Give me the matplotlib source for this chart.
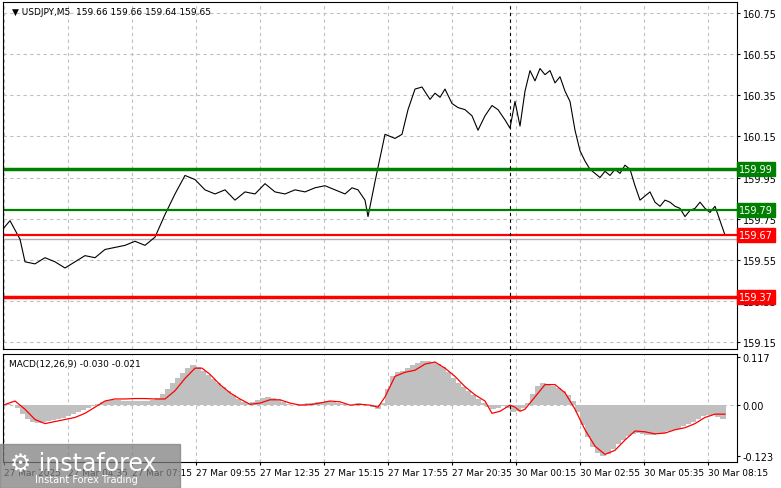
import matplotlib
matplotlib.use("Agg")
import matplotlib.pyplot as plt
import numpy as np

# time positions (5-minute bar index)
price_t = [0,3.5,8.5,11,16,21,26,31,36,41,46,51,56,61,66,71,76,81,86,91,96,101,106,111,116,121,126,131,136,141,146,151,156,161,166,171,174.5,177.5,181,182.5,186,191,196,199.5,202.5,206,209.5,213.5,216,218.5,221,224.5,227.5,231,234.5,237.5,241,244.5,247.5,251,253.5,256,258.5,261,263.5,266,268.5,271,273.5,276,278.5,281,283.5,286,288.5,291,293.5,296,298.5,301,303.5,306,308.5,311,313.5,316,318.5,321,323.5,326,328.5,331,333.5,336,338.5,341,343.5,346,348.5,351,353.5,356,358.5,361]
price = [159.70,159.74,159.65,159.54,159.53,159.56,159.54,159.51,159.54,159.57,159.56,159.60,159.61,159.62,159.64,159.62,159.66,159.77,159.87,159.96,159.94,159.89,159.87,159.89,159.84,159.88,159.87,159.92,159.88,159.87,159.89,159.88,159.90,159.91,159.89,159.87,159.90,159.89,159.84,159.76,159.93,160.16,160.14,160.16,160.28,160.38,160.39,160.33,160.36,160.34,160.38,160.31,160.29,160.28,160.25,160.18,160.25,160.30,160.28,160.23,160.19,160.32,160.20,160.37,160.47,160.42,160.48,160.45,160.47,160.41,160.44,160.37,160.32,160.18,160.08,160.03,159.99,159.97,159.95,159.98,159.96,159.99,159.97,160.01,159.99,159.91,159.84,159.86,159.88,159.83,159.81,159.84,159.83,159.81,159.80,159.76,159.79,159.80,159.83,159.80,159.78,159.81,159.74,159.67]

macd_t = list(np.arange(0, 362, 2.5))
hist_ctrl_t = [0,3.5,8.5,11,16,21,26,31,36,41,46,51,56,61,66,71,76,81,86,94.5,98.5,103.5,108.5,113.5,118.5,123.5,128.5,133.5,138.5,143.5,148.5,153.5,158.5,163.5,168.5,173.5,178.5,183.5,187.5,191,193.5,196,201,206,211,216,221,226,231,236,241,244.5,248.5,251,253.5,256,258.5,261,263.5,266,268.5,271,273.5,276,278.5,281,283.5,286,288.5,291,293.5,296,298.5,301,303.5,306,308.5,311,313.5,316,318.5,321,323.5,326,328.5,331,333.5,336,338.5,341,343.5,346,348.5,351,353.5,356,358.5,361]
hist = [0.0,0.005,-0.01,-0.03,-0.045,-0.04,-0.035,-0.03,-0.02,-0.01,0.0,0.01,0.012,0.01,0.01,0.01,0.012,0.03,0.06,0.1,0.09,0.07,0.05,0.03,0.01,0.005,0.015,0.02,0.01,0.0,0.002,0.005,0.008,0.01,0.005,0.0,0.005,0.0,-0.01,0.01,0.06,0.08,0.085,0.1,0.11,0.105,0.09,0.06,0.04,0.02,0.0,-0.01,-0.005,0.0,-0.01,-0.02,-0.01,-0.005,0.01,0.04,0.05,0.055,0.05,0.045,0.04,0.03,0.02,0.005,-0.03,-0.06,-0.09,-0.11,-0.12,-0.125,-0.115,-0.1,-0.09,-0.08,-0.07,-0.07,-0.068,-0.07,-0.075,-0.072,-0.07,-0.065,-0.062,-0.06,-0.055,-0.05,-0.045,-0.04,-0.03,-0.025,-0.025,-0.025,-0.03,-0.035]
sig_t = [0,6,11,16,21,26,31,36,41,46,51,56,61,66,71,76,81,86,91,96,99.5,103.5,108.5,113.5,118.5,123.5,128.5,133.5,138.5,143.5,148.5,153.5,158.5,163.5,168.5,173.5,178.5,183.5,187.5,191,196,201,206,211,216,221,226,231,236,241,244.5,248.5,253.5,256,258.5,261,266,271,276,281,286,291,296,301,306,311,316,321,326,331,336,341,346,351,356,361]
sig = [0.0,0.01,-0.01,-0.035,-0.045,-0.04,-0.035,-0.03,-0.02,-0.005,0.01,0.015,0.015,0.016,0.016,0.015,0.015,0.035,0.065,0.09,0.09,0.075,0.05,0.03,0.015,0.002,0.005,0.013,0.013,0.005,0.0,0.001,0.005,0.01,0.008,0.0,0.002,0.0,-0.005,0.02,0.07,0.08,0.085,0.1,0.105,0.09,0.07,0.045,0.025,0.01,-0.02,-0.015,0.0,-0.005,-0.015,-0.01,0.02,0.05,0.05,0.03,-0.01,-0.06,-0.1,-0.12,-0.11,-0.085,-0.063,-0.065,-0.07,-0.068,-0.06,-0.055,-0.045,-0.03,-0.022,-0.022]

levels = [159.99, 159.79, 159.67, 159.37]
level_colors = ["#008000", "#008000", "#ff0000", "#ff0000"]
price_ticks = [160.75, 160.55, 160.35, 160.15, 159.95, 159.75, 159.55, 159.35, 159.15]
time_labels = ["27 Mar 2025", "27 Mar 04:35", "27 Mar 07:15", "27 Mar 09:55", "27 Mar 12:35",
               "27 Mar 15:15", "27 Mar 17:55", "27 Mar 20:35", "30 Mar 00:15", "30 Mar 02:55",
               "30 Mar 05:35", "30 Mar 08:15"]
time_label_t = [0.5, 32.5, 64.5, 96.5, 128.5, 160.5, 192.5, 224.5, 256.5, 288.5, 320.5, 352.5]

W, H = 781, 489
fig = plt.figure(figsize=(W/100, H/100), dpi=100)
plt.rcParams['font.family'] = ['DejaVu Sans']
def box(l, t, r, b):
    return [l/W, 1-b/H, (r-l)/W, (b-t)/H]
ax = fig.add_axes(box(3, 3, 737, 350))
ax2 = fig.add_axes(box(3, 355, 737, 463))
xlim = (0, 367)
for a in (ax, ax2):
    a.set_xlim(*xlim)
    a.set_xticks(time_label_t)
    a.grid(True, axis='x', ls=(0, (3, 3)), color='#c0c0c0', lw=0.8)
    for s in a.spines.values():
        s.set_color('black'); s.set_linewidth(0.8)
    a.tick_params(length=2, labelsize=7, colors='black', direction='out', pad=2)
    a.yaxis.tick_right()

ax.set_ylim(159.116, 160.8035)
ax.set_yticks(price_ticks)
ax.set_yticklabels([f"{v:.2f}" for v in price_ticks])
ax.grid(True, axis='y', ls=(0, (3, 3)), color='#c0c0c0', lw=0.8)
ax.set_xticklabels([])
ax.tick_params(axis='x', length=0)
ax.axhline(159.65, color='#b0b0b0', lw=1)
ax.plot(price_t, price, color='black', lw=0.8)
for v, c in zip(levels, level_colors):
    ax.axhline(v, color=c, lw=2.5 if v in (159.99, 159.37) else 1.6)
    ax.text(1.003, v, f"{v:.2f}", transform=ax.get_yaxis_transform(), color='white',
            fontsize=7, va='center', ha='left', clip_on=False,
            bbox=dict(boxstyle='square,pad=0.2', fc=c, ec=c))
ax.axvline(253.5, color='black', ls=(0, (3, 3)), lw=0.8)
ax2.axvline(253.5, color='black', ls=(0, (3, 3)), lw=0.8)
ax.text(0.012, 0.985, "▼ USDJPY,M5  159.66 159.66 159.64 159.65", transform=ax.transAxes,
        fontsize=6.5, va='top', ha='left')

ax2.set_ylim(-0.1385, 0.1245)
ax2.set_yticks([0.117, 0.0, -0.123])
ax2.set_yticklabels(["0.117", "0.00", "-0.123"])
ax2.grid(False, axis='y')
ax2.axhline(0, color='#c0c0c0', ls=(0, (3, 3)), lw=0.8)
hist_i = np.interp(macd_t, hist_ctrl_t, hist)
ax2.bar(macd_t, hist_i, width=2.6, color='#c0c0c0', lw=0)
ax2.plot(sig_t, sig, color='red', lw=0.9)
ax2.set_xticklabels(time_labels, fontsize=6.5, ha='left')
ax2.text(0.008, 0.95, "MACD(12,26,9) -0.030 -0.021", transform=ax2.transAxes,
         fontsize=6.5, va='top', ha='left')

# watermark
fig.patches.append(plt.Rectangle((0, 1-489/H), 180/W, (489-445)/H, transform=fig.transFigure,
                                 color='#808080', alpha=0.75, zorder=10))
fig.text(10/W, 1-463/H, "⚙ instaforex", color='white', fontsize=17, va='center', zorder=11)
fig.text(35/W, 1-480/H, "Instant Forex Trading", color='white', fontsize=7, va='center', zorder=11)

fig.savefig("out.png", dpi=100)
